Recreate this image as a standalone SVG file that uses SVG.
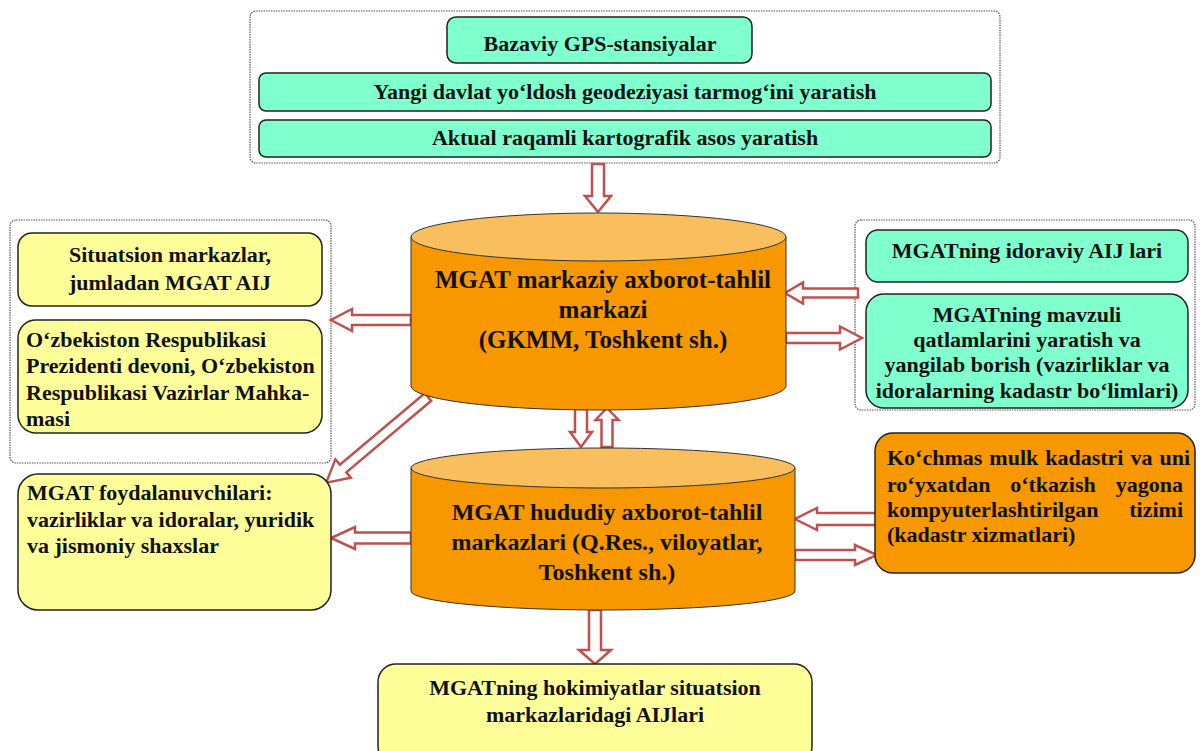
<svg xmlns="http://www.w3.org/2000/svg" width="1203" height="751" viewBox="0 0 1203 751">
  <defs>
    <style>
      .frame { fill: #ffffff; stroke: #555555; stroke-width: 1.2; stroke-dasharray: 1.5 1; }
      .green { fill: #80FFCF; stroke: #222222; stroke-width: 1.5; }
      .yellow { fill: #FFFF99; stroke: #222222; stroke-width: 1.5; }
      .orange { fill: #F79800; stroke: #222222; stroke-width: 1.5; }
      .cyl-body { fill: #F79800; stroke: #333333; stroke-width: 1; }
      .cyl-top { fill: #F9BF5E; stroke: #333333; stroke-width: 1; }
      .arrow { fill: #ffffff; stroke: #C0504D; stroke-width: 2.5; stroke-linejoin: miter; }
      text { font-family: "Liberation Serif", "Times New Roman", serif; font-weight: bold; fill: #111111; }
      .c { text-anchor: middle; }
      .e { text-anchor: end; }
      .f22 { font-size: 22px; }
      .f24 { font-size: 24px; }
      .f25 { font-size: 25px; }
    </style>
  </defs>
  <rect width="1203" height="751" fill="#ffffff"/>

  <!-- dotted group frames -->
  <g id="frames">
    <rect class="frame" x="250" y="11" width="750" height="152" rx="6"/>
    <rect class="frame" x="10" y="220" width="321" height="243" rx="6"/>
    <rect class="frame" x="855" y="220" width="340" height="190" rx="6"/>
  </g>

  <!-- connectors: hollow block arrows -->
  <g id="connectors">
    <path class="arrow" d="M0,-6 H32 V-13 L48,0 L32,13 V6 H0 Z" transform="translate(598,164) rotate(90)"/>
    <path class="arrow" d="M0,-5 H59 V-11 L80,0 L59,11 V5 H0 Z" transform="translate(411,320) rotate(180)"/>
    <path class="arrow" d="M0,-4.5 H55 V-10.5 L73,0 L55,10.5 V4.5 H0 Z" transform="translate(858,293) rotate(180)"/>
    <path class="arrow" d="M0,-5 H54 V-11.5 L76,0 L54,11.5 V5 H0 Z" transform="translate(786,338)"/>
    <path class="arrow" d="M0,-5 H111 V-12 L133,0 L111,12 V5 H0 Z" transform="translate(428,397) rotate(139.9)"/>
    <path class="arrow" d="M0,-6 H23 V-11 L38,0 L23,11 V6 H0 Z" transform="translate(581,409) rotate(90)"/>
    <path class="arrow" d="M0,-5.5 H27 V-11.5 L39,0 L27,11.5 V5.5 H0 Z" transform="translate(607,447) rotate(-90)"/>
    <path class="arrow" d="M0,-5.5 H56 V-11 L80,0 L56,11 V5.5 H0 Z" transform="translate(411,538) rotate(180)"/>
    <path class="arrow" d="M0,-6 H60 V-11 L82,0 L60,11 V6 H0 Z" transform="translate(877,519) rotate(180)"/>
    <path class="arrow" d="M0,-5 H60 V-10 L82,0 L60,10 V5 H0 Z" transform="translate(795,555)"/>
    <path class="arrow" d="M0,-6 H40 V-16 L54,0 L40,16 V6 H0 Z" transform="translate(595,610) rotate(90)"/>
  </g>

  <g id="gps">
    <rect class="green" x="447" y="17" width="305" height="46" rx="9"/>
    <text class="c f22" x="600" y="51">Bazaviy GPS-stansiyalar</text>
  </g>
  <g id="yangi">
    <rect class="green" x="259" y="73" width="732" height="38" rx="7"/>
    <text class="c f22" x="625" y="99">Yangi davlat yo‘ldosh geodeziyasi tarmog‘ini yaratish</text>
  </g>
  <g id="aktual">
    <rect class="green" x="259" y="120" width="732" height="37" rx="7"/>
    <text class="c f22" x="625" y="145">Aktual raqamli kartografik asos yaratish</text>
  </g>

  <g id="markaziy">
    <path class="cyl-body" d="M411,237 V386 A187.5,24 0 0 0 786,386 V237 Z"/>
    <ellipse class="cyl-top" cx="598.5" cy="237" rx="187.5" ry="24"/>
    <text class="c f25" x="603" y="288">MGAT markaziy axborot-tahlil</text>
    <text class="c f25" x="603" y="318">markazi</text>
    <text class="c f25" x="603" y="348">(GKMM, Toshkent sh.)</text>
  </g>

  <g id="hududiy">
    <path class="cyl-body" d="M411,468 V591 A192,19 0 0 0 795,591 V468 Z"/>
    <ellipse class="cyl-top" cx="603" cy="468" rx="192" ry="20"/>
    <text class="c f24" x="607" y="520">MGAT hududiy axborot-tahlil</text>
    <text class="c f24" x="607" y="550">markazlari (Q.Res., viloyatlar,</text>
    <text class="c f24" x="607" y="580">Toshkent sh.)</text>
  </g>

  <g id="situatsion">
    <rect class="yellow" x="18" y="233" width="304" height="73" rx="14"/>
    <text class="c f22" x="170" y="262">Situatsion markazlar,</text>
    <text class="c f22" x="170" y="290">jumladan MGAT AIJ</text>
  </g>
  <g id="prezident">
    <rect class="yellow" x="18" y="320" width="304" height="113" rx="18"/>
    <text class="f22" x="26" y="347">O‘zbekiston Respublikasi</text>
    <text class="f22" x="26" y="373">Prezidenti devoni, O‘zbekiston</text>
    <text class="f22" x="26" y="400">Respublikasi Vazirlar Mahka-</text>
    <text class="f22" x="26" y="426">masi</text>
  </g>

  <g id="idoraviy">
    <rect class="green" x="866" y="230" width="322" height="52" rx="12"/>
    <text class="c f22" x="1027" y="258">MGATning idoraviy AIJ lari</text>
  </g>
  <g id="mavzuli">
    <rect class="green" x="866" y="294" width="322" height="114" rx="18"/>
    <text class="c f22" x="1027" y="322">MGATning mavzuli</text>
    <text class="c f22" x="1027" y="347">qatlamlarini yaratish va</text>
    <text class="c f22" x="1027" y="372">yangilab borish (vazirliklar va</text>
    <text class="c f22" x="1027" y="398">idoralarning kadastr bo‘limlari)</text>
  </g>

  <g id="foydalanuvchilar">
    <rect class="yellow" x="18" y="474" width="313" height="136" rx="20"/>
    <text class="f22" x="27" y="500">MGAT foydalanuvchilari:</text>
    <text class="f22" x="27" y="527">vazirliklar va idoralar, yuridik</text>
    <text class="f22" x="27" y="553">va jismoniy shaxslar</text>
  </g>

  <g id="kadastr">
    <rect class="orange" x="875" y="433" width="320" height="140" rx="18"/>
    <text class="f22" x="887" y="465" word-spacing="1.5">Ko‘chmas mulk kadastri va uni</text>
    <text class="f22" x="887" y="492">ro‘yxatdan</text>
    <text class="c f22" x="1053" y="492">o‘tkazish</text>
    <text class="e f22" x="1183" y="492">yagona</text>
    <text class="f22" x="887" y="517">kompyuterlashtirilgan</text>
    <text class="e f22" x="1183" y="517">tizimi</text>
    <text class="f22" x="887" y="542">(kadastr xizmatlari)</text>
  </g>

  <g id="hokimiyat">
    <rect class="yellow" x="378" y="664" width="434" height="100" rx="18"/>
    <text class="c f22" x="595" y="695">MGATning hokimiyatlar situatsion</text>
    <text class="c f22" x="595" y="722">markazlaridagi AIJlari</text>
  </g>
</svg>
